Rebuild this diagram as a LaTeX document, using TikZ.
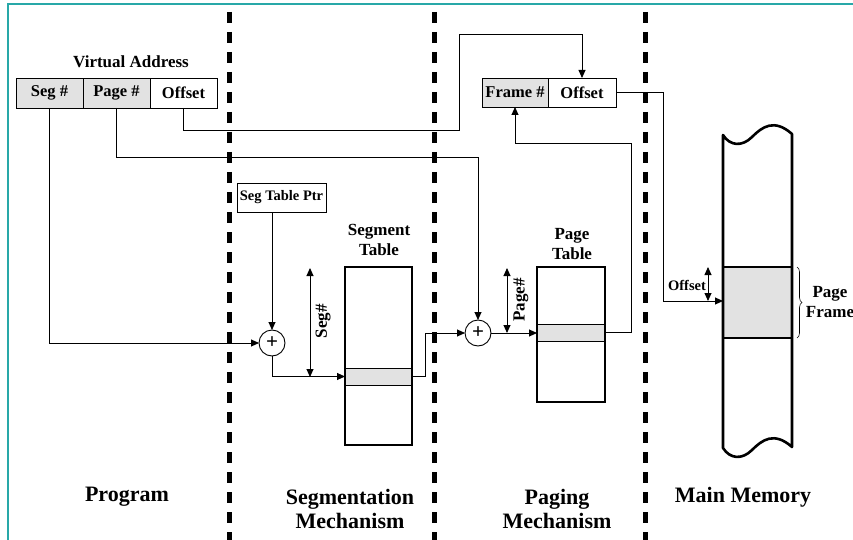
\documentclass[tikz,border=0pt]{standalone}
\usepackage{fontspec}
\setmainfont{Liberation Serif}
\usetikzlibrary{arrows.meta,decorations.pathreplacing}
\newcommand\fsz[2]{\fontsize{#1}{#2}\selectfont\bfseries}
\definecolor{cellgray}{RGB}{226,226,226}
\definecolor{frameteal}{RGB}{40,168,168}

\begin{document}
\begin{tikzpicture}[x=1pt,y=-1pt,
  line width=0.9pt,
  >={Triangle[length=8pt,width=7pt]},
  cell/.style={draw, line width=0.9pt, minimum height=30pt, inner sep=0pt, outer sep=0pt, font=\fsz{16.5}{19}},
  tablebox/.style={draw, line width=2.8pt, inner sep=0pt, outer sep=0pt},
  rowbox/.style={draw, fill=cellgray, line width=0.8pt, inner sep=0pt, outer sep=0pt, minimum height=17pt},
  adder/.style={draw, circle, fill=white, minimum size=26pt, inner sep=0pt, outer sep=0pt, font=\fsz{21}{22}},
  divider/.style={line width=5pt, dash pattern=on 11pt off 9pt},
  label/.style={font=\fsz{17}{20.5}, align=center, inner sep=0pt},
  biglabel/.style={font=\fsz{22}{24}, align=center, inner sep=0pt}
]
\useasboundingbox (0,0) rectangle (853,540);

% outer frame edges
\draw[frameteal, line width=2pt] (8,540) -- (8,4) -- (853,4);

% dashed dividers between the four regions
\foreach \x in {229,434,645}
  \draw[divider] (\x,12) -- (\x,540);

% virtual address
\node[label] (vatitle) at (131,62) {Virtual Address};
\node[cell, fill=cellgray, minimum width=67pt] (seg) at (49.5,93) {Seg \#};
\node[cell, fill=cellgray, minimum width=67pt] (page) at (116.5,93) {Page \#};
\node[cell, minimum width=67pt] (off) at (183.5,93) {Offset};

% physical address
\node[cell, fill=cellgray, minimum width=66pt, minimum height=29pt] (fframe) at (515,92.5) {Frame \#};
\node[cell, minimum width=68pt, minimum height=29pt] (foff) at (582,92.5) {Offset};

% segmentation mechanism
\node[draw, line width=0.9pt, minimum width=89pt, minimum height=29pt, inner sep=0pt, font=\fsz{14.5}{17}] (stp) at (281.5,197.5) {Seg Table Ptr};
\node[adder] (add1) at (272,343) {+};
\node[label] (sttitle) at (379,240) {Segment\\Table};
\node[rowbox, minimum width=67pt] (strow) at (378.5,376.5) {};
\node[tablebox, minimum width=67pt, minimum height=178pt] (segtab) at (378.5,356) {};
\coordinate (sa) at (310,268);
\coordinate (sb) at (310,377);
\node[label, rotate=90] (seglbl) at (323,321) {Seg\#};

% paging mechanism
\node[adder] (add2) at (478,333) {+};
\node[label] (pttitle) at (572,244) {Page\\Table};
\node[rowbox, minimum width=68pt] (ptrow) at (571,332.5) {};
\node[tablebox, minimum width=68pt, minimum height=135pt] (pagetab) at (571,334.5) {};
\coordinate (pa) at (507,268);
\coordinate (pb) at (507,333);
\node[label, rotate=90] (pagelbl) at (521,300) {Page\#};

% main memory strip with torn ends
\fill[cellgray] (723,267) rectangle (792,338);
\draw[line width=2.6pt, line join=round]
  (723,135) .. controls (730,146) and (742,147) .. (752,137)
            .. controls (762,127) and (774,118) .. (792,134)
  -- (792,447) .. controls (774,431) and (762,440) .. (752,450)
            .. controls (742,460) and (730,459) .. (723,448) -- cycle;
\draw[line width=2.6pt] (723,267) -- (792,267) (723,338) -- (792,338);
\coordinate (memin) at (723,301);
\coordinate (oa) at (708,267);
\coordinate (ob) at (708,301);
\node[font=\fsz{14.5}{17}, inner sep=0pt] (offlbl) at (687,285) {Offset};
\coordinate (brtop) at (797,267);
\coordinate (brbot) at (797,338);
\draw[decorate, decoration={brace, amplitude=5pt}, line width=0.6pt] (brtop) -- (brbot);
\node[label] (pflbl) at (830,302) {Page\\Frame};

% connectors
\coordinate (c3) at (459,34);
\coordinate (c4) at (631,143);
\coordinate (c5) at (663,301);
\draw[->] (seg.south) |- (add1.west);
\draw[->] (page.south) -- ++(0,49) -| (add2.north);
\draw[->] (off.south) -- ++(0,22) -| (c3) -| (foff.north);
\draw[->] (add1.north |- stp.south) -- (add1.north);
\draw[->] (add1.south) |- (strow.west);
\draw[<->] (sa) -- (sb);
\draw[->] (strow.east) -- ++(13,0) |- (add2.west);
\draw[->] (add2.east) -- (add2.east -| pagetab.west);
\draw[<->] (pa) -- (pb);
\draw[->] (ptrow.east) -| (c4) -| (fframe.south);
\draw[->] (foff.east) -| (c5) -- (memin);
\draw[<->] (oa) -- (ob);

% region captions
\node[biglabel] (cap1) at (127,497) {Program};
\node[biglabel] (cap2) at (350,509) {Segmentation\\Mechanism};
\node[biglabel] (cap3) at (557,509) {Paging\\Mechanism};
\node[biglabel] (cap4) at (743,497) {Main Memory};
\end{tikzpicture}
\end{document}
